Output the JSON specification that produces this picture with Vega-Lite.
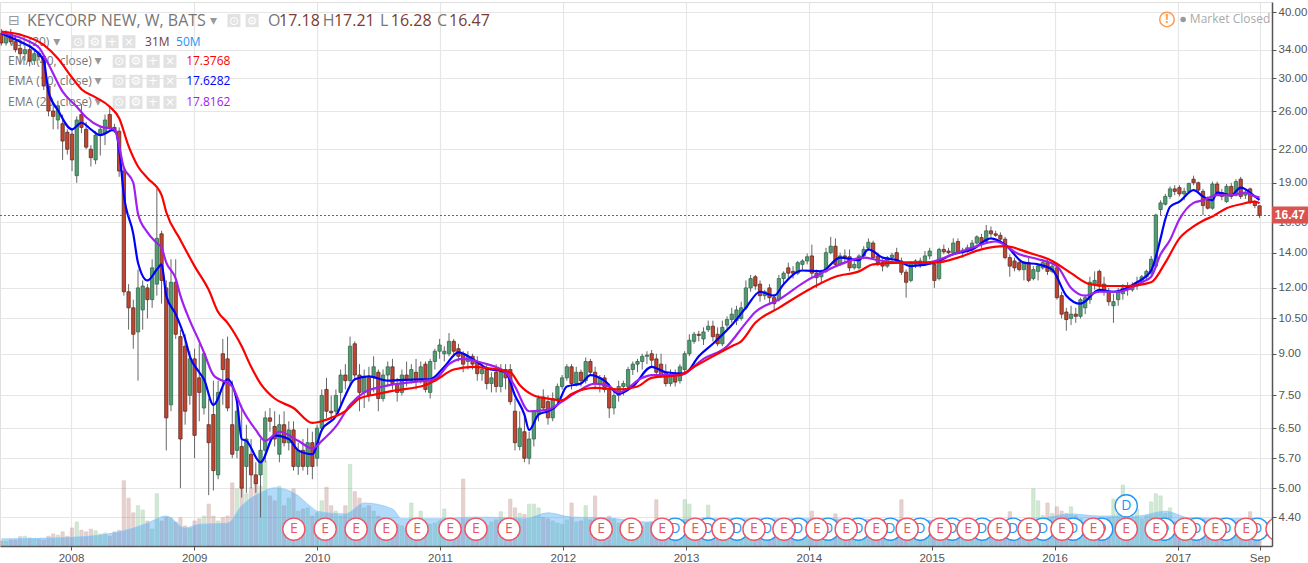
{
"$schema":"https://vega.github.io/schema/vega-lite/v6.json",
"description":"KeyCorp weekly price with EMAs, volume and events",
"width":1272,"height":544,
"autosize":{"type":"none"},
"padding":{"left":0,"top":2,"right":36,"bottom":17},
"background":"white",
"config":{"view":{"stroke":"#e0e0e0"},"font":"Open Sans"},
"datasets":{
"c":[
{"t":"2007-06-08","o":36.5,"h":37.2,"l":34.6,"c":35,"v":9},
{"t":"2007-06-22","o":35,"h":37,"l":34.6,"c":36.4,"v":9},
{"t":"2007-07-06","o":36.4,"h":37.2,"l":34.8,"c":35.2,"v":11},
{"t":"2007-07-20","o":35.2,"h":36.2,"l":33.6,"c":34,"v":11},
{"t":"2007-08-03","o":34.2,"h":35.4,"l":32,"c":33.4,"v":17},
{"t":"2007-08-17","o":33.4,"h":34.6,"l":32.4,"c":34,"v":18},
{"t":"2007-08-31","o":34,"h":34.4,"l":31.6,"c":32.4,"v":15},
{"t":"2007-09-14","o":32.4,"h":33.8,"l":31.8,"c":33.4,"v":13},
{"t":"2007-09-28","o":33.4,"h":33.8,"l":32.4,"c":33,"v":13},
{"t":"2007-10-12","o":33,"h":33.2,"l":28.5,"c":29,"v":11},
{"t":"2007-10-26","o":29,"h":29.2,"l":25.4,"c":26,"v":18},
{"t":"2007-11-09","o":26,"h":27,"l":24,"c":25.4,"v":22},
{"t":"2007-11-23","o":25,"h":27.2,"l":24,"c":26.6,"v":20},
{"t":"2007-12-07","o":24.6,"h":25.6,"l":21,"c":22.8,"v":26},
{"t":"2007-12-21","o":23.7,"h":24,"l":21.5,"c":22,"v":18},
{"t":"2008-01-04","o":23.5,"h":24,"l":20,"c":21,"v":33},
{"t":"2008-01-18","o":19.6,"h":25.4,"l":19,"c":25,"v":44},
{"t":"2008-02-01","o":25.6,"h":26.8,"l":23.6,"c":24.2,"v":29},
{"t":"2008-02-15","o":24,"h":24.8,"l":22,"c":22.2,"v":26},
{"t":"2008-02-29","o":22,"h":22.4,"l":20.4,"c":21.2,"v":31},
{"t":"2008-03-14","o":21,"h":23.8,"l":20.6,"c":23.4,"v":28},
{"t":"2008-03-28","o":23.4,"h":24.4,"l":21.4,"c":24,"v":22},
{"t":"2008-04-11","o":23.6,"h":25.6,"l":22.4,"c":25,"v":24},
{"t":"2008-04-25","o":25.6,"h":26.6,"l":24,"c":24.2,"v":18},
{"t":"2008-05-09","o":24.2,"h":24.6,"l":23.6,"c":23.8,"v":26},
{"t":"2008-05-23","o":23.8,"h":24.2,"l":19.5,"c":20,"v":29},
{"t":"2008-06-06","o":20,"h":20.4,"l":11.6,"c":11.8,"v":120},
{"t":"2008-06-20","o":11.8,"h":12.2,"l":10,"c":11,"v":88},
{"t":"2008-07-04","o":11,"h":11.4,"l":9.2,"c":9.8,"v":61},
{"t":"2008-07-18","o":9.9,"h":13,"l":8,"c":12,"v":74},
{"t":"2008-08-01","o":10.9,"h":12.4,"l":10,"c":12.1,"v":66},
{"t":"2008-08-15","o":12,"h":12.2,"l":10.5,"c":11.4,"v":46},
{"t":"2008-08-29","o":11.4,"h":13.6,"l":11,"c":13.1,"v":31},
{"t":"2008-09-12","o":12.2,"h":18.5,"l":11.6,"c":14.9,"v":96},
{"t":"2008-09-26","o":15.2,"h":15.4,"l":11.2,"c":12.4,"v":46},
{"t":"2008-10-10","o":12,"h":12.4,"l":5.9,"c":6.8,"v":52},
{"t":"2008-10-24","o":7.2,"h":13.6,"l":7,"c":12.3,"v":52},
{"t":"2008-11-07","o":12.3,"h":13.6,"l":9.6,"c":9.8,"v":44},
{"t":"2008-11-21","o":9.7,"h":10,"l":5,"c":6.2,"v":52},
{"t":"2008-12-05","o":9.3,"h":9.8,"l":6.6,"c":7,"v":37},
{"t":"2008-12-19","o":7.5,"h":9.1,"l":7.2,"c":8.8,"v":33},
{"t":"2009-01-02","o":8.8,"h":9.2,"l":5.7,"c":6.3,"v":46},
{"t":"2009-01-16","o":8.1,"h":9.4,"l":6.7,"c":7.6,"v":50},
{"t":"2009-01-30","o":7.1,"h":9,"l":6.9,"c":9,"v":55},
{"t":"2009-02-13","o":6.6,"h":7.4,"l":4.85,"c":6.1,"v":77},
{"t":"2009-02-27","o":6.9,"h":8,"l":4.95,"c":5.4,"v":55},
{"t":"2009-03-13","o":5.3,"h":8,"l":5.2,"c":7.6,"v":46},
{"t":"2009-03-27","o":9,"h":9.6,"l":7.2,"c":8.4,"v":52},
{"t":"2009-04-10","o":8.8,"h":9.7,"l":7,"c":7.1,"v":55},
{"t":"2009-04-24","o":6.6,"h":8,"l":5.7,"c":5.8,"v":116},
{"t":"2009-05-08","o":5.9,"h":7.4,"l":5.7,"c":7,"v":105},
{"t":"2009-05-22","o":6,"h":7.2,"l":4.8,"c":5,"v":110},
{"t":"2009-06-05","o":5.5,"h":6.6,"l":4.9,"c":6.2,"v":96},
{"t":"2009-06-19","o":5.8,"h":6.2,"l":5,"c":5.3,"v":107},
{"t":"2009-07-03","o":5.3,"h":5.6,"l":4.9,"c":5.1,"v":120},
{"t":"2009-07-17","o":5.3,"h":6.2,"l":4.4,"c":5.9,"v":110},
{"t":"2009-07-31","o":5.9,"h":7,"l":5.6,"c":6.8,"v":156},
{"t":"2009-08-14","o":6.8,"h":7.1,"l":6.4,"c":6.7,"v":92},
{"t":"2009-08-28","o":6.55,"h":7,"l":6,"c":6.2,"v":83},
{"t":"2009-09-11","o":5.8,"h":6.9,"l":5.6,"c":6.6,"v":110},
{"t":"2009-09-25","o":6.6,"h":7,"l":6,"c":6.1,"v":74},
{"t":"2009-10-09","o":6.1,"h":6.7,"l":5.9,"c":6.45,"v":88},
{"t":"2009-10-23","o":6.45,"h":6.7,"l":5.4,"c":5.5,"v":105},
{"t":"2009-11-06","o":5.5,"h":6.1,"l":5.3,"c":5.9,"v":64},
{"t":"2009-11-20","o":5.9,"h":6.2,"l":5.4,"c":5.5,"v":68},
{"t":"2009-12-04","o":5.5,"h":6.5,"l":5.3,"c":6.1,"v":70},
{"t":"2009-12-18","o":6.1,"h":6.4,"l":5.2,"c":5.5,"v":55},
{"t":"2010-01-01","o":5.7,"h":6.6,"l":5.5,"c":6.5,"v":61},
{"t":"2010-01-15","o":6.5,"h":7.7,"l":6.4,"c":7.5,"v":83},
{"t":"2010-01-29","o":7.7,"h":8.1,"l":6.8,"c":7,"v":108},
{"t":"2010-02-12","o":7,"h":7.5,"l":6.7,"c":6.95,"v":74},
{"t":"2010-02-26","o":7,"h":7.7,"l":6.9,"c":7.5,"v":64},
{"t":"2010-03-12","o":7.6,"h":8.4,"l":7.2,"c":8.2,"v":55},
{"t":"2010-03-26","o":8.2,"h":8.6,"l":7.7,"c":8,"v":74},
{"t":"2010-04-09","o":8,"h":9.7,"l":7.8,"c":9.3,"v":150},
{"t":"2010-04-23","o":9.4,"h":9.5,"l":8,"c":8.2,"v":100},
{"t":"2010-05-07","o":8.2,"h":8.6,"l":7,"c":7.6,"v":88},
{"t":"2010-05-21","o":7.6,"h":8.4,"l":7.1,"c":8.1,"v":70},
{"t":"2010-06-04","o":8.1,"h":8.5,"l":7.3,"c":7.5,"v":74},
{"t":"2010-06-18","o":8.1,"h":8.9,"l":7.6,"c":8.5,"v":64},
{"t":"2010-07-02","o":8.3,"h":8.4,"l":7,"c":7.4,"v":55},
{"t":"2010-07-16","o":7.4,"h":8.4,"l":7.3,"c":8.2,"v":52},
{"t":"2010-07-30","o":8.2,"h":8.7,"l":7.8,"c":8.5,"v":40},
{"t":"2010-08-13","o":8.5,"h":8.8,"l":7.7,"c":7.9,"v":46},
{"t":"2010-08-27","o":7.9,"h":8.1,"l":7.3,"c":7.6,"v":40},
{"t":"2010-09-10","o":7.6,"h":8.4,"l":7.5,"c":8.2,"v":37},
{"t":"2010-09-24","o":8.2,"h":8.7,"l":7.8,"c":8,"v":33},
{"t":"2010-10-08","o":8,"h":8.6,"l":7.9,"c":8.4,"v":79},
{"t":"2010-10-22","o":8.3,"h":8.8,"l":7.7,"c":8,"v":46},
{"t":"2010-11-05","o":8,"h":8.7,"l":7.9,"c":8.5,"v":64},
{"t":"2010-11-19","o":8.6,"h":8.7,"l":7.6,"c":7.7,"v":37},
{"t":"2010-12-03","o":7.6,"h":8.8,"l":7.4,"c":8.7,"v":40},
{"t":"2010-12-17","o":8.7,"h":9.2,"l":8.4,"c":9.1,"v":42},
{"t":"2010-12-31","o":9.1,"h":9.6,"l":8.8,"c":9.35,"v":46},
{"t":"2011-01-14","o":9,"h":9.3,"l":8.7,"c":9.1,"v":68},
{"t":"2011-01-28","o":9,"h":9.85,"l":8.9,"c":9.5,"v":50},
{"t":"2011-02-11","o":9.5,"h":9.6,"l":8.9,"c":9.1,"v":44},
{"t":"2011-02-25","o":9.2,"h":9.4,"l":8.7,"c":8.9,"v":40},
{"t":"2011-03-11","o":9,"h":9.1,"l":8.3,"c":8.6,"v":123},
{"t":"2011-03-25","o":8.7,"h":9.1,"l":8.4,"c":8.9,"v":50},
{"t":"2011-04-08","o":8.9,"h":9,"l":8.4,"c":8.6,"v":46},
{"t":"2011-04-22","o":8.7,"h":8.9,"l":8,"c":8.25,"v":42},
{"t":"2011-05-06","o":8.25,"h":8.6,"l":8,"c":8.4,"v":40},
{"t":"2011-05-20","o":8.4,"h":8.6,"l":7.7,"c":7.9,"v":38},
{"t":"2011-06-03","o":7.9,"h":8.3,"l":7.6,"c":8.1,"v":44},
{"t":"2011-06-17","o":8.3,"h":8.6,"l":7.6,"c":7.8,"v":48},
{"t":"2011-07-01","o":7.8,"h":8.6,"l":7.6,"c":8.3,"v":63},
{"t":"2011-07-15","o":8.4,"h":8.6,"l":7.7,"c":8.1,"v":50},
{"t":"2011-07-29","o":8.4,"h":8.6,"l":7.2,"c":7.3,"v":86},
{"t":"2011-08-12","o":7,"h":7.4,"l":5.9,"c":6.1,"v":70},
{"t":"2011-08-26","o":6,"h":7,"l":5.9,"c":6.5,"v":60},
{"t":"2011-09-09","o":6.4,"h":6.9,"l":5.6,"c":5.7,"v":58},
{"t":"2011-09-23","o":5.7,"h":6.4,"l":5.55,"c":6.2,"v":77},
{"t":"2011-10-07","o":6.2,"h":7,"l":6,"c":7,"v":77},
{"t":"2011-10-21","o":6.9,"h":7.5,"l":6.7,"c":7.4,"v":70},
{"t":"2011-11-04","o":7.45,"h":7.7,"l":7,"c":7.1,"v":52},
{"t":"2011-11-18","o":7.3,"h":7.5,"l":6.6,"c":6.8,"v":50},
{"t":"2011-12-02","o":6.8,"h":7.6,"l":6.7,"c":7.4,"v":46},
{"t":"2011-12-16","o":7.4,"h":7.9,"l":7.2,"c":7.8,"v":42},
{"t":"2011-12-30","o":7.8,"h":8.2,"l":7.7,"c":8.1,"v":40},
{"t":"2012-01-13","o":8.1,"h":8.6,"l":8,"c":8.5,"v":48},
{"t":"2012-01-27","o":8.5,"h":8.6,"l":7.7,"c":7.9,"v":79},
{"t":"2012-02-10","o":7.9,"h":8.5,"l":7.8,"c":8.3,"v":44},
{"t":"2012-02-24","o":8.3,"h":8.4,"l":7.8,"c":8,"v":46},
{"t":"2012-03-09","o":8,"h":8.85,"l":7.9,"c":8.7,"v":74},
{"t":"2012-03-23","o":8.7,"h":8.8,"l":8.2,"c":8.3,"v":48},
{"t":"2012-04-06","o":8.3,"h":8.5,"l":7.7,"c":7.9,"v":92},
{"t":"2012-04-20","o":7.9,"h":8.2,"l":7.6,"c":8.1,"v":50},
{"t":"2012-05-04","o":8.1,"h":8.2,"l":7.6,"c":7.7,"v":46},
{"t":"2012-05-18","o":7.7,"h":7.9,"l":6.8,"c":7.1,"v":55},
{"t":"2012-06-01","o":7.1,"h":7.7,"l":6.9,"c":7.5,"v":50},
{"t":"2012-06-15","o":7.5,"h":8,"l":7.3,"c":7.8,"v":42},
{"t":"2012-06-29","o":7.8,"h":8,"l":7.5,"c":7.9,"v":40},
{"t":"2012-07-13","o":7.8,"h":8.5,"l":7.7,"c":8.4,"v":40},
{"t":"2012-07-27","o":8.4,"h":8.7,"l":8.2,"c":8.6,"v":44},
{"t":"2012-08-10","o":8.6,"h":8.8,"l":8.3,"c":8.7,"v":38},
{"t":"2012-08-24","o":8.7,"h":9,"l":8.4,"c":8.9,"v":36},
{"t":"2012-09-07","o":8.9,"h":9.1,"l":8.6,"c":8.95,"v":42},
{"t":"2012-09-21","o":9,"h":9.15,"l":8.5,"c":8.75,"v":44},
{"t":"2012-10-05","o":8.8,"h":9,"l":8.1,"c":8.3,"v":85},
{"t":"2012-10-19","o":8.6,"h":9,"l":8.1,"c":8.2,"v":50},
{"t":"2012-11-02","o":8.3,"h":8.6,"l":7.8,"c":7.9,"v":46},
{"t":"2012-11-16","o":7.9,"h":8.4,"l":7.8,"c":8.2,"v":42},
{"t":"2012-11-30","o":8.2,"h":8.4,"l":7.8,"c":7.95,"v":38},
{"t":"2012-12-14","o":8,"h":8.6,"l":7.9,"c":8.5,"v":48},
{"t":"2012-12-28","o":8.4,"h":9.1,"l":8.3,"c":9,"v":85},
{"t":"2013-01-11","o":9,"h":9.8,"l":8.9,"c":9.55,"v":77},
{"t":"2013-01-25","o":9.5,"h":9.9,"l":9.4,"c":9.8,"v":50},
{"t":"2013-02-08","o":9.8,"h":9.95,"l":9.5,"c":9.75,"v":42},
{"t":"2013-02-22","o":9.6,"h":10.1,"l":9.35,"c":9.9,"v":52},
{"t":"2013-03-08","o":10,"h":10.4,"l":9.9,"c":10.15,"v":75},
{"t":"2013-03-22","o":10.15,"h":10.4,"l":9.5,"c":9.7,"v":44},
{"t":"2013-04-05","o":9.8,"h":10.1,"l":9.3,"c":9.4,"v":48},
{"t":"2013-04-19","o":9.4,"h":10.4,"l":9.3,"c":10.1,"v":50},
{"t":"2013-05-03","o":10.2,"h":10.6,"l":10,"c":10.45,"v":40},
{"t":"2013-05-17","o":10.45,"h":11,"l":10.3,"c":10.7,"v":38},
{"t":"2013-05-31","o":10.4,"h":11.1,"l":10.2,"c":10.9,"v":36},
{"t":"2013-06-14","o":10.5,"h":11.3,"l":10.4,"c":11,"v":42},
{"t":"2013-06-28","o":11,"h":12.4,"l":10.9,"c":12,"v":44},
{"t":"2013-07-12","o":12,"h":12.7,"l":11.8,"c":12.5,"v":40},
{"t":"2013-07-26","o":12.6,"h":12.7,"l":11.9,"c":12.1,"v":36},
{"t":"2013-08-09","o":12.2,"h":12.4,"l":11.3,"c":11.6,"v":34},
{"t":"2013-08-23","o":11.6,"h":11.9,"l":11.4,"c":11.8,"v":32},
{"t":"2013-09-06","o":12,"h":12.2,"l":11.2,"c":11.5,"v":34},
{"t":"2013-09-20","o":11.5,"h":11.7,"l":10.9,"c":11.2,"v":38},
{"t":"2013-10-04","o":11.4,"h":12.7,"l":11.3,"c":12.5,"v":42},
{"t":"2013-10-18","o":12.5,"h":12.9,"l":12.2,"c":12.8,"v":40},
{"t":"2013-11-01","o":13.1,"h":13.4,"l":12.5,"c":12.8,"v":36},
{"t":"2013-11-15","o":12.9,"h":13.2,"l":12.5,"c":12.8,"v":34},
{"t":"2013-11-29","o":12.8,"h":13.5,"l":12.7,"c":13.4,"v":36},
{"t":"2013-12-13","o":13.3,"h":13.6,"l":13,"c":13.5,"v":38},
{"t":"2013-12-27","o":13.5,"h":13.95,"l":13.3,"c":13.75,"v":40},
{"t":"2014-01-10","o":13.8,"h":14.5,"l":12.6,"c":12.8,"v":64},
{"t":"2014-01-24","o":12.8,"h":13,"l":12,"c":12.55,"v":44},
{"t":"2014-02-07","o":12.6,"h":13,"l":12.3,"c":12.9,"v":40},
{"t":"2014-02-21","o":12.9,"h":14.3,"l":12.8,"c":14,"v":42},
{"t":"2014-03-07","o":14,"h":15,"l":13.9,"c":14.4,"v":46},
{"t":"2014-03-21","o":14.4,"h":14.9,"l":13.2,"c":13.3,"v":59},
{"t":"2014-04-04","o":13.3,"h":14,"l":13.2,"c":13.8,"v":44},
{"t":"2014-04-18","o":13.8,"h":14.2,"l":13.3,"c":13.75,"v":40},
{"t":"2014-05-02","o":13.75,"h":14.2,"l":12.9,"c":13.1,"v":38},
{"t":"2014-05-16","o":13.1,"h":13.6,"l":13,"c":13.3,"v":36},
{"t":"2014-05-30","o":13.1,"h":13.9,"l":13,"c":13.8,"v":34},
{"t":"2014-06-13","o":13.8,"h":14.4,"l":13.6,"c":14.2,"v":34},
{"t":"2014-06-27","o":14.3,"h":14.9,"l":14.1,"c":14.65,"v":36},
{"t":"2014-07-11","o":14.6,"h":14.75,"l":13.6,"c":13.7,"v":38},
{"t":"2014-07-25","o":13.8,"h":14,"l":13.2,"c":13.4,"v":40},
{"t":"2014-08-08","o":13.4,"h":13.6,"l":12.9,"c":13.2,"v":38},
{"t":"2014-08-22","o":13.2,"h":13.8,"l":13.1,"c":13.7,"v":34},
{"t":"2014-09-05","o":13.7,"h":14,"l":13.4,"c":13.85,"v":32},
{"t":"2014-09-19","o":14,"h":14.3,"l":13.4,"c":13.5,"v":36},
{"t":"2014-10-03","o":13.5,"h":13.7,"l":12.7,"c":12.85,"v":85},
{"t":"2014-10-17","o":12.85,"h":13,"l":11.5,"c":12.3,"v":48},
{"t":"2014-10-31","o":12.4,"h":13.5,"l":12.3,"c":13.4,"v":40},
{"t":"2014-11-14","o":13.3,"h":13.6,"l":13.1,"c":13.5,"v":34},
{"t":"2014-11-28","o":13.5,"h":13.7,"l":13.1,"c":13.3,"v":34},
{"t":"2014-12-12","o":13.4,"h":14.1,"l":13.2,"c":13.8,"v":40},
{"t":"2014-12-26","o":13.8,"h":14.3,"l":13.6,"c":14.1,"v":36},
{"t":"2015-01-09","o":13.3,"h":13.5,"l":12,"c":12.4,"v":46},
{"t":"2015-01-23","o":12.5,"h":14.3,"l":12.4,"c":14.2,"v":50},
{"t":"2015-02-06","o":14.2,"h":14.5,"l":13.9,"c":14.05,"v":40},
{"t":"2015-02-20","o":14.1,"h":14.3,"l":13.9,"c":14,"v":36},
{"t":"2015-03-06","o":14,"h":14.9,"l":13.9,"c":14.6,"v":38},
{"t":"2015-03-20","o":14.7,"h":14.9,"l":13.9,"c":14,"v":42},
{"t":"2015-04-03","o":14,"h":14.3,"l":13.7,"c":14.15,"v":36},
{"t":"2015-04-17","o":14.1,"h":14.5,"l":14,"c":14.3,"v":34},
{"t":"2015-05-01","o":14.3,"h":14.8,"l":14.1,"c":14.6,"v":34},
{"t":"2015-05-15","o":14.6,"h":15.1,"l":14.5,"c":15,"v":32},
{"t":"2015-05-29","o":14.95,"h":15.2,"l":14.3,"c":14.5,"v":36},
{"t":"2015-06-12","o":14.7,"h":15.8,"l":14.6,"c":15.4,"v":40},
{"t":"2015-06-26","o":15.4,"h":15.7,"l":15,"c":15.2,"v":34},
{"t":"2015-07-10","o":15.2,"h":15.4,"l":15,"c":15.1,"v":32},
{"t":"2015-07-24","o":15.1,"h":15.3,"l":14.7,"c":14.85,"v":36},
{"t":"2015-08-07","o":14.85,"h":15,"l":13.6,"c":13.7,"v":40},
{"t":"2015-08-21","o":13.7,"h":13.9,"l":12.6,"c":13.2,"v":63},
{"t":"2015-09-04","o":13.5,"h":13.7,"l":12.9,"c":13.1,"v":42},
{"t":"2015-09-18","o":13.4,"h":13.6,"l":12.9,"c":13,"v":38},
{"t":"2015-10-02","o":13,"h":13.5,"l":12.4,"c":13.4,"v":40},
{"t":"2015-10-16","o":13.4,"h":13.7,"l":12.3,"c":12.4,"v":46},
{"t":"2015-10-30","o":12.5,"h":13.2,"l":12.4,"c":13,"v":105},
{"t":"2015-11-13","o":12.9,"h":13.3,"l":12.4,"c":13.2,"v":83},
{"t":"2015-11-27","o":13.1,"h":13.6,"l":13,"c":13.4,"v":56},
{"t":"2015-12-11","o":13.4,"h":13.6,"l":12.7,"c":12.9,"v":79},
{"t":"2015-12-25","o":12.9,"h":13.4,"l":12.8,"c":13.2,"v":60},
{"t":"2016-01-08","o":13.1,"h":13.2,"l":11.4,"c":11.5,"v":72},
{"t":"2016-01-22","o":11.6,"h":11.8,"l":10.5,"c":10.7,"v":64},
{"t":"2016-02-05","o":10.8,"h":11,"l":9.95,"c":10.45,"v":60},
{"t":"2016-02-19","o":10.5,"h":11.1,"l":10.2,"c":10.7,"v":72},
{"t":"2016-03-04","o":10.7,"h":11,"l":10.3,"c":10.6,"v":56},
{"t":"2016-03-18","o":10.6,"h":11.5,"l":10.5,"c":11.4,"v":50},
{"t":"2016-04-01","o":11,"h":11.6,"l":10.7,"c":11.5,"v":44},
{"t":"2016-04-15","o":11.4,"h":12.6,"l":11.2,"c":12.3,"v":50},
{"t":"2016-04-29","o":12.2,"h":12.9,"l":11.9,"c":12.4,"v":48},
{"t":"2016-05-13","o":12.9,"h":13,"l":11.8,"c":12.1,"v":50},
{"t":"2016-05-27","o":12.2,"h":12.6,"l":11.6,"c":11.8,"v":46},
{"t":"2016-06-10","o":11.8,"h":12,"l":11.1,"c":11.3,"v":52},
{"t":"2016-06-24","o":11.1,"h":11.7,"l":10.3,"c":11.3,"v":86},
{"t":"2016-07-08","o":11.4,"h":12,"l":11.1,"c":11.8,"v":60},
{"t":"2016-07-22","o":11.7,"h":12.2,"l":11.4,"c":12,"v":112},
{"t":"2016-08-05","o":12,"h":12.3,"l":11.6,"c":11.9,"v":60},
{"t":"2016-08-19","o":11.9,"h":12.3,"l":11.8,"c":12.1,"v":52},
{"t":"2016-09-02","o":12.1,"h":12.6,"l":11.9,"c":12.3,"v":68},
{"t":"2016-09-16","o":12.3,"h":12.7,"l":12.2,"c":12.6,"v":50},
{"t":"2016-09-30","o":12.6,"h":13,"l":12.4,"c":12.9,"v":56},
{"t":"2016-10-14","o":12.8,"h":13.8,"l":12.6,"c":13.6,"v":81},
{"t":"2016-10-28","o":13.2,"h":16.6,"l":13.1,"c":16.5,"v":96},
{"t":"2016-11-11","o":16.9,"h":17.6,"l":16.5,"c":17.4,"v":92},
{"t":"2016-11-25","o":17.3,"h":18.1,"l":17.2,"c":17.9,"v":60},
{"t":"2016-12-09","o":17.9,"h":18.7,"l":17.7,"c":18.5,"v":70},
{"t":"2016-12-23","o":18.5,"h":18.8,"l":18,"c":18.3,"v":44},
{"t":"2017-01-06","o":18.6,"h":18.8,"l":17.9,"c":18.1,"v":42},
{"t":"2017-01-20","o":18.1,"h":18.6,"l":17.6,"c":18.3,"v":46},
{"t":"2017-02-03","o":18.3,"h":19,"l":18.2,"c":18.95,"v":40},
{"t":"2017-02-17","o":19.3,"h":19.6,"l":18.8,"c":19,"v":38},
{"t":"2017-03-03","o":19,"h":19.1,"l":18.2,"c":18.4,"v":52},
{"t":"2017-03-17","o":18.3,"h":18.5,"l":16.5,"c":17.2,"v":50},
{"t":"2017-03-31","o":17.6,"h":17.9,"l":16.9,"c":17,"v":46},
{"t":"2017-04-14","o":17,"h":19.1,"l":16.9,"c":18.9,"v":40},
{"t":"2017-04-28","o":18.9,"h":19.1,"l":18.1,"c":18.2,"v":44},
{"t":"2017-05-12","o":18.2,"h":18.5,"l":17.6,"c":17.9,"v":36},
{"t":"2017-05-26","o":17.5,"h":18.9,"l":17.4,"c":18.7,"v":38},
{"t":"2017-06-09","o":18.7,"h":19,"l":17.7,"c":17.9,"v":50},
{"t":"2017-06-23","o":18,"h":19.3,"l":17.9,"c":19.1,"v":42},
{"t":"2017-07-07","o":19.3,"h":19.5,"l":17.7,"c":17.9,"v":46},
{"t":"2017-07-21","o":18,"h":18.4,"l":17.7,"c":18.2,"v":44},
{"t":"2017-08-04","o":18.5,"h":18.6,"l":17.3,"c":17.5,"v":63},
{"t":"2017-08-18","o":17.5,"h":17.6,"l":17,"c":17.2,"v":40},
{"t":"2017-09-01","o":17.18,"h":17.21,"l":16.28,"c":16.47,"v":31}
],
"e10":[
{"t":"2007-06-08","v":36.5},{"t":"2007-08-03","v":35.2},{"t":"2007-09-14","v":34},{"t":"2007-10-12","v":32.4},{"t":"2007-10-26","v":28.3},{"t":"2007-11-23","v":26.1},{"t":"2008-01-04","v":24},{"t":"2008-02-01","v":24.7},{"t":"2008-02-29","v":24},{"t":"2008-03-28","v":23.4},{"t":"2008-05-09","v":24},{"t":"2008-05-23","v":22},{"t":"2008-06-06","v":18},{"t":"2008-07-04","v":15.2},{"t":"2008-07-18","v":13.4},{"t":"2008-08-15","v":12.4},{"t":"2008-09-12","v":13},{"t":"2008-09-26","v":13.3},{"t":"2008-10-10","v":11.6},{"t":"2008-11-07","v":10.7},{"t":"2008-12-05","v":9.6},{"t":"2008-12-19","v":8.9},{"t":"2009-01-16","v":8.3},{"t":"2009-01-30","v":8.05},{"t":"2009-02-27","v":7.2},{"t":"2009-04-10","v":8.05},{"t":"2009-05-08","v":7.3},{"t":"2009-05-22","v":6.2},{"t":"2009-06-05","v":6.15},{"t":"2009-07-17","v":5.6},{"t":"2009-08-28","v":6.3},{"t":"2009-10-09","v":6.2},{"t":"2009-11-06","v":5.9},{"t":"2009-12-18","v":5.8},{"t":"2010-01-15","v":6.45},{"t":"2010-02-26","v":6.85},{"t":"2010-03-26","v":7.5},{"t":"2010-04-23","v":8.05},{"t":"2010-06-04","v":8.15},{"t":"2010-07-30","v":8},{"t":"2010-11-05","v":8.05},{"t":"2010-12-03","v":8.05},{"t":"2011-01-14","v":8.5},{"t":"2011-02-25","v":9.05},{"t":"2011-04-08","v":8.8},{"t":"2011-05-20","v":8.45},{"t":"2011-07-15","v":8.3},{"t":"2011-08-12","v":7.5},{"t":"2011-09-09","v":6.9},{"t":"2011-09-23","v":6.45},{"t":"2011-10-21","v":6.9},{"t":"2011-11-18","v":7},{"t":"2011-12-16","v":7.2},{"t":"2012-01-13","v":7.8},{"t":"2012-02-24","v":7.9},{"t":"2012-03-23","v":8.2},{"t":"2012-05-04","v":8},{"t":"2012-06-15","v":7.55},{"t":"2012-07-27","v":7.8},{"t":"2012-09-21","v":8.5},{"t":"2012-11-02","v":8.3},{"t":"2012-12-28","v":8.25},{"t":"2013-02-08","v":8.9},{"t":"2013-03-22","v":9.4},{"t":"2013-05-17","v":10.2},{"t":"2013-06-28","v":11},{"t":"2013-08-09","v":11.8},{"t":"2013-09-20","v":11.6},{"t":"2013-10-18","v":12.2},{"t":"2013-12-13","v":12.95},{"t":"2014-02-07","v":12.9},{"t":"2014-04-04","v":13.7},{"t":"2014-05-30","v":13.55},{"t":"2014-06-27","v":14.2},{"t":"2014-08-08","v":13.7},{"t":"2014-09-19","v":13.55},{"t":"2014-10-31","v":13.2},{"t":"2015-01-09","v":13.4},{"t":"2015-03-06","v":13.9},{"t":"2015-05-01","v":14.2},{"t":"2015-06-26","v":14.9},{"t":"2015-08-07","v":14.5},{"t":"2015-10-02","v":13.4},{"t":"2015-11-13","v":13.3},{"t":"2015-12-25","v":13},{"t":"2016-02-05","v":11.6},{"t":"2016-03-18","v":11.2},{"t":"2016-05-13","v":11.9},{"t":"2016-06-24","v":11.8},{"t":"2016-09-02","v":12.3},{"t":"2016-10-14","v":12.95},{"t":"2016-11-11","v":14.9},{"t":"2016-11-25","v":16.2},{"t":"2016-12-09","v":17.1},{"t":"2017-01-06","v":17.5},{"t":"2017-02-17","v":18.4},{"t":"2017-03-17","v":17.9},{"t":"2017-04-14","v":17.6},{"t":"2017-04-28","v":18.2},{"t":"2017-06-09","v":18},{"t":"2017-07-07","v":18.6},{"t":"2017-08-18","v":17.9},{"t":"2017-09-01","v":17.63}
],
"e20":[
{"t":"2007-06-08","v":36.6},{"t":"2007-08-31","v":35.2},{"t":"2007-09-28","v":34.3},{"t":"2007-10-26","v":31.9},{"t":"2007-12-07","v":28.3},{"t":"2008-01-18","v":26.5},{"t":"2008-02-15","v":25.3},{"t":"2008-03-28","v":24.3},{"t":"2008-05-09","v":24},{"t":"2008-06-06","v":20.3},{"t":"2008-07-04","v":19},{"t":"2008-07-18","v":16.6},{"t":"2008-08-15","v":15.3},{"t":"2008-09-12","v":14.6},{"t":"2008-09-26","v":14.3},{"t":"2008-10-10","v":13.4},{"t":"2008-11-07","v":12.5},{"t":"2008-11-21","v":11.6},{"t":"2008-12-19","v":10.4},{"t":"2009-01-16","v":9.5},{"t":"2009-01-30","v":9.05},{"t":"2009-02-27","v":8.2},{"t":"2009-04-24","v":7.8},{"t":"2009-05-22","v":7.1},{"t":"2009-07-03","v":6.45},{"t":"2009-07-31","v":6.15},{"t":"2009-09-11","v":6.4},{"t":"2009-11-06","v":6.15},{"t":"2009-12-18","v":5.95},{"t":"2010-01-15","v":6.15},{"t":"2010-02-26","v":6.55},{"t":"2010-04-09","v":7.2},{"t":"2010-05-21","v":7.6},{"t":"2010-07-16","v":7.8},{"t":"2010-11-19","v":8},{"t":"2010-12-17","v":8.05},{"t":"2011-01-28","v":8.6},{"t":"2011-03-11","v":8.8},{"t":"2011-05-06","v":8.65},{"t":"2011-07-15","v":8.3},{"t":"2011-08-12","v":7.8},{"t":"2011-09-23","v":7},{"t":"2011-11-18","v":7.05},{"t":"2011-12-30","v":7.3},{"t":"2012-02-10","v":7.6},{"t":"2012-04-06","v":7.9},{"t":"2012-05-18","v":7.8},{"t":"2012-06-15","v":7.6},{"t":"2012-08-24","v":8.1},{"t":"2012-09-21","v":8.2},{"t":"2012-12-14","v":8.2},{"t":"2013-02-22","v":8.8},{"t":"2013-05-03","v":9.3},{"t":"2013-06-28","v":10.3},{"t":"2013-07-26","v":10.8},{"t":"2013-10-04","v":11.4},{"t":"2013-12-27","v":12.4},{"t":"2014-02-07","v":12.8},{"t":"2014-04-04","v":13.3},{"t":"2014-06-13","v":13.7},{"t":"2014-07-25","v":13.55},{"t":"2014-10-03","v":13.4},{"t":"2014-12-12","v":13.4},{"t":"2015-03-06","v":13.9},{"t":"2015-05-01","v":14.3},{"t":"2015-07-10","v":14.7},{"t":"2015-09-18","v":13.9},{"t":"2015-11-13","v":13.6},{"t":"2016-01-08","v":13.2},{"t":"2016-02-19","v":12},{"t":"2016-04-01","v":11.6},{"t":"2016-05-13","v":11.8},{"t":"2016-07-08","v":11.8},{"t":"2016-09-16","v":12.3},{"t":"2016-10-14","v":12.6},{"t":"2016-11-11","v":13.9},{"t":"2016-12-09","v":14.8},{"t":"2017-01-06","v":16.2},{"t":"2017-02-17","v":17.4},{"t":"2017-03-17","v":17.6},{"t":"2017-04-28","v":18},{"t":"2017-06-09","v":18},{"t":"2017-07-21","v":18.2},{"t":"2017-08-18","v":17.9},{"t":"2017-09-01","v":17.82}
],
"e40":[
{"t":"2007-06-08","v":36.8},{"t":"2007-08-03","v":36.3},{"t":"2007-10-12","v":34.7},{"t":"2007-11-23","v":32.7},{"t":"2008-01-04","v":30.1},{"t":"2008-02-01","v":28.6},{"t":"2008-03-14","v":27.6},{"t":"2008-04-25","v":26.5},{"t":"2008-05-23","v":25.2},{"t":"2008-06-20","v":22.3},{"t":"2008-07-18","v":20.4},{"t":"2008-08-15","v":19.4},{"t":"2008-09-26","v":18},{"t":"2008-10-10","v":16.7},{"t":"2008-11-21","v":14.8},{"t":"2009-01-02","v":13.2},{"t":"2009-02-13","v":11.9},{"t":"2009-03-13","v":10.8},{"t":"2009-04-10","v":10.3},{"t":"2009-05-22","v":9.3},{"t":"2009-06-19","v":8.5},{"t":"2009-07-17","v":7.9},{"t":"2009-08-28","v":7.4},{"t":"2009-10-23","v":7.1},{"t":"2009-12-18","v":6.65},{"t":"2010-01-15","v":6.7},{"t":"2010-02-12","v":6.8},{"t":"2010-03-26","v":7},{"t":"2010-05-07","v":7.4},{"t":"2010-07-02","v":7.55},{"t":"2010-08-13","v":7.65},{"t":"2010-11-19","v":7.85},{"t":"2010-12-17","v":8},{"t":"2011-02-11","v":8.4},{"t":"2011-04-08","v":8.5},{"t":"2011-05-20","v":8.45},{"t":"2011-07-29","v":8.3},{"t":"2011-08-26","v":7.85},{"t":"2011-10-07","v":7.5},{"t":"2011-11-18","v":7.4},{"t":"2011-12-30","v":7.35},{"t":"2012-01-27","v":7.55},{"t":"2012-04-06","v":7.75},{"t":"2012-06-15","v":7.7},{"t":"2012-08-10","v":7.8},{"t":"2012-09-21","v":8.1},{"t":"2012-12-14","v":8.2},{"t":"2013-01-25","v":8.5},{"t":"2013-03-08","v":8.8},{"t":"2013-05-17","v":9.3},{"t":"2013-06-14","v":9.5},{"t":"2013-07-26","v":10.3},{"t":"2013-10-04","v":11},{"t":"2014-01-10","v":12},{"t":"2014-03-21","v":12.6},{"t":"2014-05-30","v":12.9},{"t":"2014-07-11","v":13.3},{"t":"2014-10-03","v":13.4},{"t":"2015-01-09","v":13.4},{"t":"2015-03-20","v":13.7},{"t":"2015-05-29","v":14.2},{"t":"2015-08-07","v":14.4},{"t":"2015-10-16","v":14},{"t":"2015-12-25","v":13.5},{"t":"2016-02-19","v":12.8},{"t":"2016-04-15","v":12.2},{"t":"2016-06-10","v":12.1},{"t":"2016-08-05","v":12.1},{"t":"2016-10-14","v":12.3},{"t":"2016-11-25","v":13.4},{"t":"2017-01-06","v":14.9},{"t":"2017-02-17","v":15.7},{"t":"2017-03-17","v":16.1},{"t":"2017-04-14","v":16.4},{"t":"2017-05-26","v":17},{"t":"2017-07-07","v":17.3},{"t":"2017-08-18","v":17.5},{"t":"2017-09-01","v":17.38}
],
"vma":[
{"t":"2007-06-08","m":13},{"t":"2007-11-23","m":15},{"t":"2008-03-28","m":20},{"t":"2008-07-04","m":33},{"t":"2008-08-15","m":42},{"t":"2008-10-10","m":55},{"t":"2008-12-05","m":33},{"t":"2009-01-16","m":40},{"t":"2009-04-10","m":42},{"t":"2009-05-22","m":74},{"t":"2009-07-17","m":98},{"t":"2009-08-28","m":107},{"t":"2009-10-23","m":98},{"t":"2009-12-18","m":70},{"t":"2010-01-01","m":64},{"t":"2010-03-26","m":59},{"t":"2010-05-21","m":79},{"t":"2010-08-13","m":68},{"t":"2010-09-10","m":50},{"t":"2010-12-31","m":50},{"t":"2011-04-08","m":53},{"t":"2011-07-15","m":52},{"t":"2011-09-09","m":50},{"t":"2011-11-18","m":61},{"t":"2012-01-27","m":53},{"t":"2012-05-04","m":52},{"t":"2012-09-07","m":44},{"t":"2013-02-08","m":50},{"t":"2013-12-13","m":50},{"t":"2014-10-03","m":48},{"t":"2015-07-24","m":46},{"t":"2015-11-13","m":50},{"t":"2016-02-19","m":59},{"t":"2016-05-13","m":55},{"t":"2016-09-02","m":55},{"t":"2016-11-25","m":64},{"t":"2017-02-03","m":52},{"t":"2017-09-01","m":50}
],
"earn":[
{"t":"2009-10-24"},{"t":"2010-01-25"},{"t":"2010-04-27"},{"t":"2010-07-25"},{"t":"2010-10-25"},{"t":"2011-01-31"},{"t":"2011-04-18"},{"t":"2011-07-25"},{"t":"2012-04-24"},{"t":"2012-07-22"},{"t":"2012-10-22"},{"t":"2013-01-28"},{"t":"2013-04-21"},{"t":"2013-07-22"},{"t":"2013-10-19"},{"t":"2014-01-25"},{"t":"2014-04-22"},{"t":"2014-07-20"},{"t":"2014-10-20"},{"t":"2015-01-26"},{"t":"2015-04-19"},{"t":"2015-07-20"},{"t":"2015-10-17"},{"t":"2016-01-23"},{"t":"2016-04-25"},{"t":"2016-08-01"},{"t":"2016-10-29"},{"t":"2017-01-23"},{"t":"2017-04-22"},{"t":"2017-07-23"},{"t":"2017-10-23"}
],
"divs":[
{"t":"2012-11-30"},{"t":"2013-03-08"},{"t":"2013-06-02"},{"t":"2013-08-30"},{"t":"2013-11-30"},{"t":"2014-02-27"},{"t":"2014-05-28"},{"t":"2014-08-31"},{"t":"2014-11-28"},{"t":"2015-03-03"},{"t":"2015-05-31"},{"t":"2015-08-31"},{"t":"2015-11-28"},{"t":"2016-02-25"},{"t":"2016-05-20"},{"t":"2016-11-22"},{"t":"2017-02-25"},{"t":"2017-05-25"},{"t":"2017-08-25"}
],
"hdr":[
{"t":"2007-08-23","p":38.6,"s":"KEYCORP NEW, W, BATS","k":"name"},
{"t":"2009-08-08","p":38.6,"s":"O","k":"name"},{"t":"2009-09-10","p":38.6,"s":"17.18","k":"ohlc"},
{"t":"2010-01-18","p":38.6,"s":"H","k":"name"},{"t":"2010-02-20","p":38.6,"s":"17.21","k":"ohlc"},
{"t":"2010-07-07","p":38.6,"s":"L","k":"name"},{"t":"2010-08-08","p":38.6,"s":"16.28","k":"ohlc"},
{"t":"2010-12-23","p":38.6,"s":"C","k":"name"},{"t":"2011-01-28","p":38.6,"s":"16.47","k":"ohlc"}
],
"lab":[
{"t":"2007-06-28","p":35.2,"s":"Vol (20)","k":"name"},
{"t":"2008-08-08","p":35.2,"s":"31M","k":"ohlc"},
{"t":"2008-11-08","p":35.2,"s":"50M","k":"vma"},
{"t":"2007-06-28","p":32.3,"s":"EMA (40, close)","k":"name"},
{"t":"2008-12-08","p":32.3,"s":"17.3768","k":"e40"},
{"t":"2007-06-28","p":29.6,"s":"EMA (10, close)","k":"name"},
{"t":"2008-12-08","p":29.6,"s":"17.6282","k":"e10"},
{"t":"2007-06-28","p":27,"s":"EMA (20, close)","k":"name"},
{"t":"2008-12-08","p":27,"s":"17.8162","k":"e20"}
],
"btn":[
{"t":"2009-04-29","p":38.6,"g":"⊙"},{"t":"2009-06-22","p":38.6,"g":"⚙"},
{"t":"2008-01-22","p":35.2,"g":"⊙"},{"t":"2008-03-12","p":35.2,"g":"⚙"},{"t":"2008-05-02","p":35.2,"g":"+"},{"t":"2008-06-21","p":35.2,"g":"×"},
{"t":"2008-05-23","p":32.3,"g":"⊙"},{"t":"2008-07-12","p":32.3,"g":"⚙"},{"t":"2008-09-01","p":32.3,"g":"+"},{"t":"2008-10-21","p":32.3,"g":"×"},
{"t":"2008-05-23","p":29.6,"g":"⊙"},{"t":"2008-07-12","p":29.6,"g":"⚙"},{"t":"2008-09-01","p":29.6,"g":"+"},{"t":"2008-10-21","p":29.6,"g":"×"},
{"t":"2008-05-23","p":27,"g":"⊙"},{"t":"2008-07-12","p":27,"g":"⚙"},{"t":"2008-09-01","p":27,"g":"+"},{"t":"2008-10-21","p":27,"g":"×"}
],
"caret":[
{"t":"2007-07-16","p":38.6,"g":"⊟"},{"t":"2009-02-27","p":38.6,"g":"▾"},{"t":"2007-11-20","p":35.2,"g":"▾"},{"t":"2008-03-21","p":32.3,"g":"▾"},{"t":"2008-03-21","p":29.6,"g":"▾"},{"t":"2008-03-21","p":27,"g":"▾"}
],
"last":[{"t":"2007-06-04","t2":"2017-10-08","p":16.47}],
"tag":[{"t":"2017-10-08","t2":"2018-01-23","hi":17.12,"lo":15.9,"mid":"2017-11-30","p":16.47,"s":"16.47"}],
"status":[{"t":"2016-11-30","dot":"2017-01-17","txt":"2017-02-06","p":38.8,"s":"Market Closed"}]
},
"encoding":{
"x":{"field":"t","type":"temporal","title":null,
"scale":{"type":"utc","nice":false,"padding":0,"domain":[{"year":2007,"month":6,"date":4,"utc":true},{"year":2017,"month":10,"date":8,"utc":true}]},
"axis":{"values":[{"year":2008,"month":1,"date":1,"utc":true},{"year":2009,"month":1,"date":1,"utc":true},{"year":2010,"month":1,"date":1,"utc":true},{"year":2011,"month":1,"date":1,"utc":true},{"year":2012,"month":1,"date":1,"utc":true},{"year":2013,"month":1,"date":1,"utc":true},{"year":2014,"month":1,"date":1,"utc":true},{"year":2015,"month":1,"date":1,"utc":true},{"year":2016,"month":1,"date":1,"utc":true},{"year":2017,"month":1,"date":1,"utc":true},{"year":2017,"month":9,"date":1,"utc":true}],
"labelExpr":"utcmonth(datum.value)==8 ? 'Sep' : ''+utcyear(datum.value)",
"grid":true,"gridColor":"#e6e6e6","gridWidth":1.2,"domainColor":"#555555","domainWidth":1.5,"tickColor":"#555555","tickSize":4,"labelColor":"#555555","labelFont":"Liberation Sans","labelFontSize":11.5,"labelPadding":2,"labelFlush":false,"labelOverlap":false}}
},
"layer":[
{"data":{"name":"lab"},"mark":{"type":"text","align":"left","baseline":"middle","fontSize":12},
"encoding":{"y":{"field":"p","type":"quantitative","title":null,"scale":{"type":"log","domain":[3.884,41.87],"nice":false},
"axis":{"orient":"right","values":[4.4,5,5.7,6.5,7.5,9,10.5,12,14,16,19,22,26,30,34,40],"format":".2f","grid":true,"gridColor":"#e6e6e6","gridWidth":1.2,"domainColor":"#555555","domainWidth":1.5,"tickColor":"#555555","tickSize":4,"labelColor":"#555555","labelFont":"Liberation Sans","labelFontSize":11.5,"labelPadding":2,"labelOverlap":false,"labelFlush":false}},
"text":{"field":"s"},
"color":{"field":"k","type":"nominal","legend":null,"scale":{"domain":["name","ohlc","vma","e40","e10","e20"],"range":["#777777","#7a3b32","#2196f3","#ff0000","#0000ff","#a020f0"]}}}},
{"data":{"name":"c"},"mark":{"type":"bar","size":3.3,"orient":"vertical","opacity":0.32,"strokeWidth":0.6},
"encoding":{"y":{"field":"v","type":"quantitative","title":null,"axis":null,"scale":{"domain":[0,1000],"nice":false}},
"fill":{"condition":{"test":"datum.c>=datum.o","value":"#6fbf73"},"value":"#b5736a"},
"stroke":{"condition":{"test":"datum.c>=datum.o","value":"#3f8f55"},"value":"#8d4a42"}}},
{"data":{"name":"vma"},"mark":{"type":"area","color":"#2196f3","opacity":0.35,"interpolate":"monotone","line":{"color":"#90caf9","strokeWidth":1,"opacity":0.8}},
"encoding":{"y":{"field":"m","type":"quantitative","title":null,"axis":null,"scale":{"domain":[0,1000],"nice":false}}}},
{"data":{"name":"hdr"},"mark":{"type":"text","align":"left","baseline":"middle","fontSize":16},
"encoding":{"y":{"field":"p","type":"quantitative","axis":null,"scale":{"type":"log","domain":[3.884,41.87],"nice":false}},"text":{"field":"s"},
"color":{"field":"k","type":"nominal","legend":null,"scale":{"domain":["name","ohlc"],"range":["#666666","#7a3b32"]}}}},
{"data":{"name":"caret"},"mark":{"type":"text","baseline":"middle","fontSize":14,"font":"DejaVu Sans","color":"#999999"},
"encoding":{"y":{"field":"p","type":"quantitative","axis":null,"scale":{"type":"log","domain":[3.884,41.87],"nice":false}},"text":{"field":"g"}}},
{"data":{"name":"btn"},"mark":{"type":"point","shape":"square","filled":true,"size":170,"color":"#e2e2e2","opacity":1},
"encoding":{"y":{"field":"p","type":"quantitative","axis":null,"scale":{"type":"log","domain":[3.884,41.87],"nice":false}}}},
{"data":{"name":"btn"},"mark":{"type":"text","baseline":"middle","fontSize":12,"font":"DejaVu Sans","color":"#ffffff"},
"encoding":{"y":{"field":"p","type":"quantitative","axis":null,"scale":{"type":"log","domain":[3.884,41.87],"nice":false}},"text":{"field":"g"}}},
{"data":{"name":"c"},"mark":{"type":"rule","color":"#666666","strokeWidth":1},
"encoding":{"y":{"field":"h","type":"quantitative","axis":null,"scale":{"type":"log","domain":[3.884,41.87],"nice":false}},"y2":{"field":"l"}}},
{"data":{"name":"c"},"mark":{"type":"bar","size":3.3,"orient":"vertical","strokeWidth":0.8},
"encoding":{"y":{"field":"o","type":"quantitative","axis":null,"scale":{"type":"log","domain":[3.884,41.87],"nice":false}},"y2":{"field":"c"},
"fill":{"condition":{"test":"datum.c>=datum.o","value":"#569a72"},"value":"#c4452f"},
"stroke":{"condition":{"test":"datum.c>=datum.o","value":"#2f6b4d"},"value":"#5c2d25"}}},
{"data":{"name":"e10"},"mark":{"type":"line","color":"#0000ff","strokeWidth":2.2,"interpolate":"monotone"},
"encoding":{"y":{"field":"v","type":"quantitative","axis":null,"scale":{"type":"log","domain":[3.884,41.87],"nice":false}}}},
{"data":{"name":"e20"},"mark":{"type":"line","color":"#a020f0","strokeWidth":2.2,"interpolate":"monotone"},
"encoding":{"y":{"field":"v","type":"quantitative","axis":null,"scale":{"type":"log","domain":[3.884,41.87],"nice":false}}}},
{"data":{"name":"e40"},"mark":{"type":"line","color":"#ff0000","strokeWidth":2.2,"interpolate":"monotone"},
"encoding":{"y":{"field":"v","type":"quantitative","axis":null,"scale":{"type":"log","domain":[3.884,41.87],"nice":false}}}},
{"data":{"name":"last"},"mark":{"type":"rule","color":"#d9362b","strokeWidth":1,"strokeDash":[2,2]},
"encoding":{"x2":{"field":"t2"},"y":{"field":"p","type":"quantitative","axis":null,"scale":{"type":"log","domain":[3.884,41.87],"nice":false}}}},
{"data":{"name":"divs"},"mark":{"type":"point","shape":"circle","filled":true,"fill":"#ffffff","stroke":"#2196f3","strokeWidth":1.4,"size":490,"opacity":1,"clip":true},
"encoding":{"y":{"datum":4.18,"type":"quantitative","axis":null,"scale":{"type":"log","domain":[3.884,41.87],"nice":false}}}},
{"data":{"name":"divs"},"mark":{"type":"text","color":"#2196f3","fontSize":14,"baseline":"middle","clip":true,"text":"D"},
"encoding":{"y":{"datum":4.18,"type":"quantitative","axis":null,"scale":{"type":"log","domain":[3.884,41.87],"nice":false}}}},
{"data":{"values":[{"t":"2016-08-01"}]},"mark":{"type":"point","shape":"circle","filled":true,"fill":"#ffffff","stroke":"#2196f3","strokeWidth":1.4,"size":490,"opacity":1},
"encoding":{"y":{"datum":4.63,"type":"quantitative","axis":null,"scale":{"type":"log","domain":[3.884,41.87],"nice":false}}}},
{"data":{"values":[{"t":"2016-08-01"}]},"mark":{"type":"text","color":"#2196f3","fontSize":14,"baseline":"middle","text":"D"},
"encoding":{"y":{"datum":4.63,"type":"quantitative","axis":null,"scale":{"type":"log","domain":[3.884,41.87],"nice":false}}}},
{"data":{"name":"earn"},"mark":{"type":"point","shape":"circle","filled":true,"fill":"#ffffff","stroke":"#ef5362","strokeWidth":1.4,"size":490,"opacity":1,"clip":true},
"encoding":{"y":{"datum":4.18,"type":"quantitative","axis":null,"scale":{"type":"log","domain":[3.884,41.87],"nice":false}}}},
{"data":{"name":"earn"},"mark":{"type":"text","color":"#ef5362","fontSize":14,"baseline":"middle","clip":true,"text":"E"},
"encoding":{"y":{"datum":4.18,"type":"quantitative","axis":null,"scale":{"type":"log","domain":[3.884,41.87],"nice":false}}}},
{"data":{"name":"status"},"mark":{"type":"point","shape":"circle","filled":false,"stroke":"#ff9a4d","strokeWidth":1.5,"size":210,"opacity":1},
"encoding":{"y":{"field":"p","type":"quantitative","axis":null,"scale":{"type":"log","domain":[3.884,41.87],"nice":false}}}},
{"data":{"name":"status"},"mark":{"type":"text","text":"!","color":"#ff9a4d","fontSize":12,"fontWeight":"bold","baseline":"middle"},
"encoding":{"y":{"field":"p","type":"quantitative","axis":null,"scale":{"type":"log","domain":[3.884,41.87],"nice":false}}}},
{"data":{"name":"status"},"mark":{"type":"point","shape":"circle","filled":true,"color":"#999999","size":30,"opacity":1},
"encoding":{"x":{"field":"dot","type":"temporal"},"y":{"field":"p","type":"quantitative","axis":null,"scale":{"type":"log","domain":[3.884,41.87],"nice":false}}}},
{"data":{"name":"status"},"mark":{"type":"text","align":"left","baseline":"middle","color":"#aaaaaa","fontSize":12},
"encoding":{"x":{"field":"txt","type":"temporal"},"y":{"field":"p","type":"quantitative","axis":null,"scale":{"type":"log","domain":[3.884,41.87],"nice":false}},"text":{"field":"s"}}},
{"data":{"name":"tag"},"mark":{"type":"rect","color":"#d9534f"},
"encoding":{"x2":{"field":"t2"},"y":{"field":"hi","type":"quantitative","axis":null,"scale":{"type":"log","domain":[3.884,41.87],"nice":false}},"y2":{"field":"lo"}}},
{"data":{"name":"tag"},"mark":{"type":"text","color":"#ffffff","fontSize":12,"fontWeight":"bold","font":"Liberation Sans","baseline":"middle"},
"encoding":{"x":{"field":"mid","type":"temporal"},"y":{"field":"p","type":"quantitative","axis":null,"scale":{"type":"log","domain":[3.884,41.87],"nice":false}},"text":{"field":"s"}}}
],
"resolve":{"scale":{"y":"independent"}}
}
